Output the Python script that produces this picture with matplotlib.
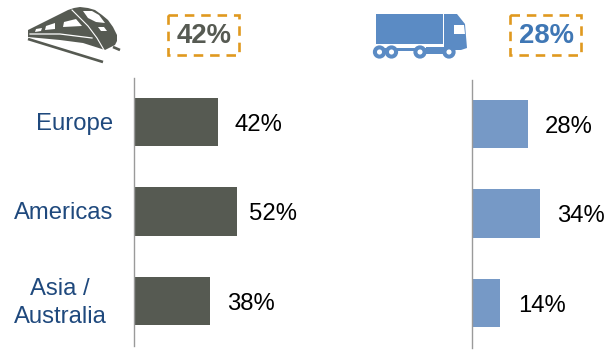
import matplotlib
matplotlib.use("Agg")
import matplotlib.pyplot as plt
from matplotlib.patches import Polygon, Rectangle, Circle

plt.rcParams["font.family"] = ["Liberation Sans", "DejaVu Sans"]

W, H = 604, 350

categories = ["Europe", "Americas", "Asia /\nAustralia"]
rail_values = [42, 52, 38]
road_values = [28, 34, 14]
rail_total = "42%"
road_total = "28%"

RAIL_COLOR = "#565a52"
ROAD_COLOR = "#7699c6"
ROAD_ICON = "#5b8bc4"
ROAD_TEXT = "#3f77b5"
LABEL_COLOR = "#1f497d"
BOX_COLOR = "#e0991f"


def bar_panel(fig, left, top, values, color, gaps, width_px=160, height_px=268, per_pct=1.99):
    ax = fig.add_axes([left / W, 1 - (top + height_px) / H, width_px / W, height_px / H])
    ax.set_xlim(0, width_px / per_pct)
    ax.set_ylim(2.99, 0)
    ypos = [0.49, 1.49, 2.49]
    ax.barh(ypos, values, height=0.54, color=color, linewidth=0)
    for y, v, gap in zip(ypos, values, gaps):
        ax.annotate(f"{v}%", (v, y), xytext=(gap, -2.0), textcoords="offset points",
                    va="center", ha="left", fontsize=17.2, color="black")
    for s in ["top", "right", "bottom"]:
        ax.spines[s].set_visible(False)
    ax.spines["left"].set_color("#9a9a9a")
    ax.spines["left"].set_linewidth(1.0)
    ax.set_xticks([])
    ax.set_yticks([])
    ax.patch.set_alpha(0)
    return ax, ypos


fig = plt.figure(figsize=(W / 100, H / 100), dpi=100, facecolor="white")

ax_rail, ypos = bar_panel(fig, 134, 78, rail_values, RAIL_COLOR, [12.4, 8.0, 12.4])
ax_road, _ = bar_panel(fig, 472, 80, road_values, ROAD_COLOR, [12.6, 12.8, 12.8])

# category labels sit left of the first panel
for name, y in zip(categories, ypos):
    if "\n" in name:
        x, ha = 60, "center"
    else:
        x, ha = 113, "right"
    ax_rail.annotate(name, (0, y), xytext=((x - 134) * 0.72, -1.4), textcoords="offset points",
                     ha=ha, va="center", fontsize=17.2, color=LABEL_COLOR, linespacing=1.35)

# overlay in pixel units for the icons and the dashed boxes
ov = fig.add_axes([0, 0, 1, 1])
ov.set_xlim(0, W)
ov.set_ylim(H, 0)
ov.axis("off")
ov.patch.set_alpha(0)

# train icon
ov.add_patch(Polygon([(28, 30), (48, 20), (68, 10), (74, 8), (80, 7), (88, 8), (95, 10), (102, 15), (108, 20),
                      (113, 27), (117, 35), (117, 41), (115, 45), (105, 50), (83, 43), (60, 40), (28, 37)],
                     closed=True, color=RAIL_COLOR, lw=0))
ov.add_patch(Polygon([(83, 11), (92, 11), (99, 15), (105, 23), (96, 22), (88, 18)], closed=True, color="white", lw=0))
ov.add_patch(Polygon([(64, 22), (76, 19), (82, 26), (63, 27)], closed=True, color="white", lw=0))
ov.add_patch(Polygon([(46, 26), (55, 23), (55, 29), (45, 30)], closed=True, color="white", lw=0))
ov.add_patch(Polygon([(36, 29), (42, 28), (41, 31), (35, 32)], closed=True, color="white", lw=0))
ov.add_patch(Polygon([(98, 27), (104, 27), (107, 31), (101, 31)], closed=True, color="white", lw=0))
ov.plot([30, 60, 92], [34, 34, 38], color="white", lw=0.9)
ov.plot([72, 88, 97, 104], [10, 26, 38, 50], color="white", lw=0.8)
ov.plot([28, 103], [39, 62], color=RAIL_COLOR, lw=1.9, solid_capstyle="butt")
ov.plot([113, 120], [47, 50], color=RAIL_COLOR, lw=1.9, solid_capstyle="butt")

# truck icon
ov.add_patch(Rectangle((375.5, 14), 67, 30, color=ROAD_ICON, lw=0))
ov.add_patch(Polygon([(444, 14), (457, 14), (465, 24), (467, 48), (461, 50), (444, 50)],
                     closed=True, color=ROAD_ICON, lw=0))
ov.add_patch(Polygon([(454, 25), (464, 25), (465, 34), (454, 34)], closed=True, color="white", lw=0))
ov.add_patch(Rectangle((384, 48), 65, 3, color=ROAD_ICON, lw=0))
ov.add_patch(Rectangle((426, 47), 22, 7, color=ROAD_ICON, lw=0))
for cx in [379.5, 391.5, 420, 449]:
    ov.add_patch(Circle((cx, 52), 4.6, facecolor="white", edgecolor=ROAD_ICON, lw=2.9, zorder=3))

# dashed summary boxes
for x, text, color in [(168, rail_total, RAIL_COLOR), (510, road_total, ROAD_TEXT)]:
    ov.add_patch(Rectangle((x, 15), 71, 40, fill=False, edgecolor=BOX_COLOR, lw=1.9,
                           linestyle=(0, (3.6, 2.6))))
    ov.text(x + 36, 36, text, ha="center", va="center", fontsize=19.8, fontweight="bold", color=color)

fig.savefig("out.png", dpi=100)
